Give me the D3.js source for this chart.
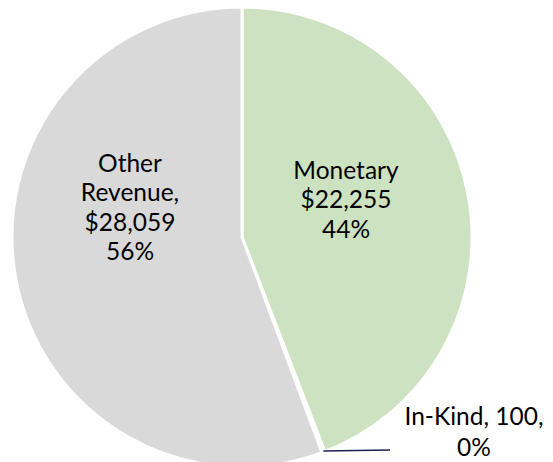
<!DOCTYPE html>
<html>
<head>
<meta charset="utf-8">
<script src="https://cdn.jsdelivr.net/npm/d3@7"></script>
<style>
  body { margin: 0; background: #fff; }
  text { font-family: Lato, "Open Sans", sans-serif; fill: #000; }
</style>
</head>
<body>
<div id="chart"></div>
<script>
// data
const categories = ["Monetary", "In-Kind", "Other Revenue"];
const values = [22255, 100, 28059];
const colors = ["#CCE2C0", "#1F2A5C", "#D9D9D9"];

const width = 553, height = 462;
const cx = 242, cy = 237, radius = 230;

const svg = d3.select("#chart").append("svg")
  .attr("width", width)
  .attr("height", height);

const g = svg.append("g").attr("transform", `translate(${cx},${cy})`);

const total = d3.sum(values);
const pie = d3.pie().sort(null).value(d => d)(values);
const arc = d3.arc().innerRadius(0).outerRadius(radius);

g.selectAll("path.slice")
  .data(pie)
  .join("path")
  .attr("class", "slice")
  .attr("d", arc)
  .attr("fill", (d, i) => colors[i])
  .attr("stroke", "#fff")
  .attr("stroke-width", 3)
  .attr("stroke-linejoin", "round");

const fmt = d3.format(",");
const pct = v => Math.round(v / total * 100) + "%";

// label lines for each slice
const labels = [
  { lines: ["Monetary", "$" + fmt(values[0]), pct(values[0])], x: 346 - cx, y: 170 - cy },
  { lines: [categories[1] + ", " + fmt(values[1]) + ",", pct(values[1])], x: 474 - cx, y: 416 - cy, lh: 31 },
  { lines: ["Other", "Revenue,", "$" + fmt(values[2]), pct(values[2])], x: 130 - cx, y: 163 - cy }
];

labels.forEach(l => {
  const t = g.append("text")
    .attr("text-anchor", "middle")
    .style("font-size", "24.5px");
  l.lines.forEach((s, i) => {
    t.append("tspan")
      .attr("x", l.x)
      .attr("y", l.y + i * (l.lh || 29.5))
      .attr("dy", "0.35em")
      .text(s);
  });
});

// leader line for the small slice
const mid = pie[1];
const a = (mid.startAngle + mid.endAngle) / 2;
const p0 = [Math.sin(a) * radius, -Math.cos(a) * radius];
g.append("line")
  .attr("x1", p0[0])
  .attr("y1", p0[1] - 1)
  .attr("x2", 390 - cx)
  .attr("y2", 450 - cy)
  .attr("stroke", "#1F1F5C")
  .attr("stroke-width", 1.5);
</script>
</body>
</html>
